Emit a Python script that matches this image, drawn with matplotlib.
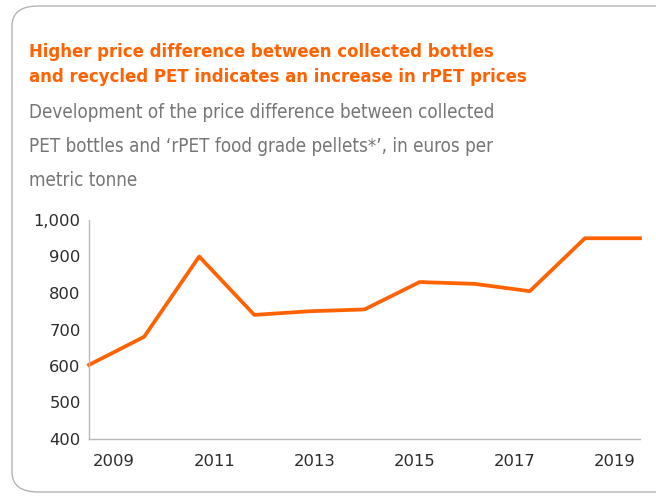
import numpy as np
import matplotlib.pyplot as plt
from matplotlib.patches import FancyBboxPatch

# Data
YEARS = [2009, 2010, 2011, 2012, 2013, 2014, 2015, 2016, 2017, 2018, 2019]
PRICE_DIFF = [603, 680, 900, 740, 750, 755, 830, 825, 805, 950, 950]
TICK_YEARS = [2009, 2011, 2013, 2015, 2017, 2019]

ORANGE = '#FF6200'
GREY_TEXT = '#767676'

plt.rcParams['font.family'] = ['DejaVu Sans']

fig = plt.figure(figsize=(6.56, 5.0), dpi=100)

# rounded frame around the card
frame = FancyBboxPatch((12 / 656, 8 / 500), 700 / 656, 486 / 500,
                       boxstyle='round,pad=0,rounding_size=0.04',
                       transform=fig.transFigure, facecolor='none',
                       edgecolor='#b4b4b4', linewidth=1.0, zorder=-10)
fig.patches.append(frame)

fig.text(29 / 656, 1 - 57 / 500,
         'Higher price difference between collected bottles',
         color=ORANGE, fontsize=13.2, fontweight='bold', va='baseline',
         fontstretch='condensed')
fig.text(29 / 656, 1 - 82 / 500,
         'and recycled PET indicates an increase in rPET prices',
         color=ORANGE, fontsize=13.2, fontweight='bold', va='baseline',
         fontstretch='condensed')
SUBTITLE = ['Development of the price difference between collected',
            'PET bottles and \u2018rPET food grade pellets*\u2019, in euros per',
            'metric tonne']
for i, line in enumerate(SUBTITLE):
    fig.text(29 / 656, 1 - (118 + 34 * i) / 500, line, color=GREY_TEXT,
             fontsize=13.5, va='baseline', fontstretch='condensed')

ax = fig.add_axes([89 / 656, 1 - 439 / 500, 551 / 656, 219 / 500])

# one band per year; line points spread across the full width
n = len(YEARS)
x_line = np.arange(n) * n / (n - 1)
ax.plot(x_line, PRICE_DIFF, color=ORANGE, linewidth=2.7, clip_on=False)

tick_pos = [YEARS.index(y) + 0.5 for y in TICK_YEARS]
ax.set_xticks(tick_pos)
ax.set_xticklabels([str(y) for y in TICK_YEARS])
ax.set_xlim(0, n)
ax.set_ylim(400, 1000)
ax.set_yticks(np.arange(400, 1001, 100))
ax.set_yticklabels(['{:,}'.format(v) for v in range(400, 1001, 100)])

for side in ['top', 'right']:
    ax.spines[side].set_visible(False)
for side in ['left', 'bottom']:
    ax.spines[side].set_color('#b8b8b8')
    ax.spines[side].set_linewidth(1.0)
ax.tick_params(length=0, labelsize=11.8, colors='#2b2b2b')
ax.tick_params(axis='x', pad=11)
ax.tick_params(axis='y', pad=6)

fig.savefig('out.png', dpi=100)
